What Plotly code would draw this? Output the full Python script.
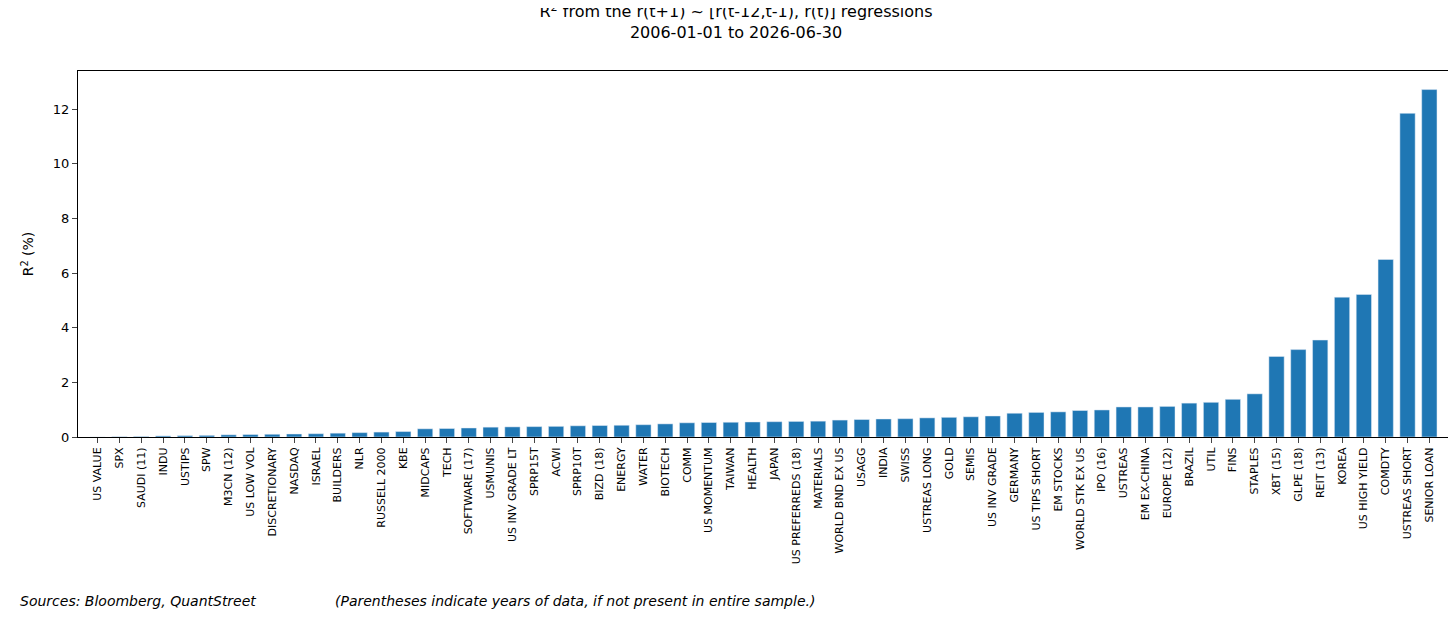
import plotly.graph_objects as go

labels = ["US VALUE", "SPX", "SAUDI (11)", "INDU", "USTIPS", "SPW", "M3CN (12)", "US LOW VOL",
          "DISCRETIONARY", "NASDAQ", "ISRAEL", "BUILDERS", "NLR", "RUSSELL 2000", "KBE", "MIDCAPS",
          "TECH", "SOFTWARE (17)", "USMUNIS", "US INV GRADE LT", "SPRP15T", "ACWI", "SPRP10T",
          "BIZD (18)", "ENERGY", "WATER", "BIOTECH", "COMM", "US MOMENTUM", "TAIWAN", "HEALTH",
          "JAPAN", "US PREFERREDS (18)", "MATERIALS", "WORLD BND EX US", "USAGG", "INDIA", "SWISS",
          "USTREAS LONG", "GOLD", "SEMIS", "US INV GRADE", "GERMANY", "US TIPS SHORT", "EM STOCKS",
          "WORLD STK EX US", "IPO (16)", "USTREAS", "EM EX-CHINA", "EUROPE (12)", "BRAZIL", "UTIL",
          "FINS", "STAPLES", "XBT (15)", "GLPE (18)", "REIT (13)", "KOREA", "US HIGH YIELD",
          "COMDTY", "USTREAS SHORT", "SENIOR LOAN"]
r2 = [0.0, 0.01, 0.02, 0.04, 0.05, 0.06, 0.08, 0.09, 0.1, 0.11, 0.12, 0.14, 0.16, 0.18, 0.2,
      0.3, 0.31, 0.33, 0.36, 0.37, 0.38, 0.39, 0.41, 0.42, 0.43, 0.45, 0.48, 0.52, 0.53, 0.54,
      0.55, 0.56, 0.57, 0.58, 0.62, 0.64, 0.66, 0.67, 0.70, 0.72, 0.74, 0.77, 0.87, 0.90, 0.92,
      0.97, 0.99, 1.1, 1.1, 1.12, 1.24, 1.27, 1.38, 1.58, 2.95, 3.2, 3.55, 5.12, 5.22, 6.5,
      11.85, 12.72]

fig = go.Figure(go.Bar(x=labels, y=r2, marker_color="#1f77b4", width=0.7))

fig.update_layout(
    width=1456, height=622, plot_bgcolor="white", paper_bgcolor="white",
    font=dict(family="DejaVu Sans", color="black", size=12),
    margin=dict(l=70, r=15, t=63, b=193, autoexpand=False),
    title=dict(text="R<sup>2</sup> from the r(t+1) ~ [r(t-12,t-1), r(t)] regressions<br>2006-01-01 to 2026-06-30",
               x=0.5, xanchor="center", y=0.985, yanchor="top", font=dict(size=16)),
    showlegend=False,
)
fig.update_xaxes(tickangle=-90, tickfont=dict(size=11), showline=True, linecolor="black",
                 mirror=True, ticks="outside", range=[-0.9, len(labels) - 0.1], automargin=False)
fig.update_yaxes(title_text="R<sup>2</sup> (%)", range=[0, 13.4], dtick=2, showline=True,
                 linecolor="black", mirror=True, ticks="outside", showgrid=False, zeroline=False,
                 tickfont=dict(size=13), automargin=False)
fig.add_annotation(text="<i>Sources: Bloomberg, QuantStreet</i>", xref="paper", yref="paper",
                   x=-0.044, y=-0.475, xanchor="left", showarrow=False, font=dict(size=14))
fig.add_annotation(text="<i>(Parentheses indicate years of data, if not present in entire sample.)</i>",
                   xref="paper", yref="paper", x=0.186, y=-0.475, xanchor="left",
                   showarrow=False, font=dict(size=14))
fig.write_html("out.html")
